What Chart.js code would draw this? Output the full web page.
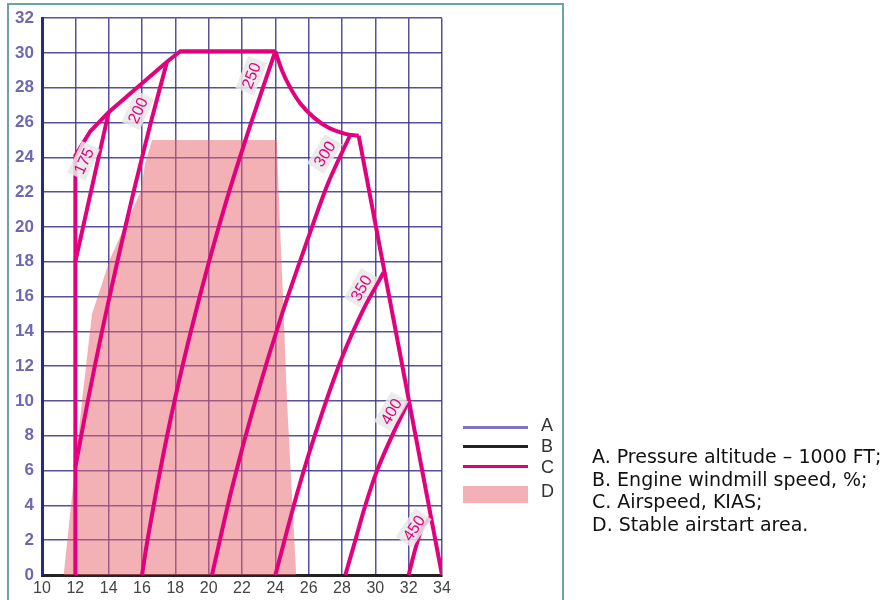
<!DOCTYPE html>
<html>
<head>
<meta charset="utf-8">
<script src="https://cdn.jsdelivr.net/npm/chart.js@4.4.0/dist/chart.umd.min.js"></script>
<style>
  body { margin: 0; background: #fff; }
  #wrap { position: relative; width: 887px; height: 600px; overflow: hidden; }
  #frame { position: absolute; left: 7px; top: 3px; width: 553px; height: 640px; border: 2px solid #6ea3a2; }
  #chart { position: absolute; left: 0; top: 0; }
  .key { position: absolute; left: 463px; width: 65px; height: 3px; }
  .letter { position: absolute; left: 541px; font: 18px "Liberation Sans", Arial, sans-serif; color: #333; line-height: 18px; }
  #notes { position: absolute; left: 592px; top: 445px; font: 19px "DejaVu Sans", sans-serif; line-height: 22.7px; color: #111; white-space: nowrap; }
</style>
</head>
<body>
<div id="wrap">
  <div id="frame"></div>
  <canvas id="chart" width="887" height="600"></canvas>

  <div class="key" style="top:426px;background:#7f74c4"></div>
  <div class="key" style="top:445px;background:#222"></div>
  <div class="key" style="top:465px;background:#e3007d"></div>
  <div class="key" style="top:486px;height:17px;background:#f3b1b5"></div>
  <div class="letter" style="top:416px">A</div>
  <div class="letter" style="top:437px">B</div>
  <div class="letter" style="top:458px">C</div>
  <div class="letter" style="top:482px">D</div>

  <div id="notes">
    A. Pressure altitude – 1000 FT;<br>
    B. Engine windmill speed, %;<br>
    C. Airspeed, KIAS;<br>
    D. Stable airstart area.
  </div>
</div>

<script>
// axis ticks
const xTicks = [10, 12, 14, 16, 18, 20, 22, 24, 26, 28, 30, 32, 34]
const yTicks = [0, 2, 4, 6, 8, 10, 12, 14, 16, 18, 20, 22, 24, 26, 28, 30, 32]

// envelope (windmill speed %, altitude 1000 ft)
const envelopeLeft = [[12, 0], [12, 24.1], [12.9, 25.5], [14, 26.6], [17.5, 29.5], [18.3, 30.1], [24, 30.1]]
const envelopeCurve = [[24, 30.1], [24.4, 29], [24.9, 28], [25.5, 27.1], [26.3, 26.3], [27.2, 25.7], [28.2, 25.35], [29, 25.25]]
const envelopeRight = [[29, 25.25], [34, 0]]

// airspeed lines, KIAS
const speedLabels = ['175', '200', '250', '300', '350', '400', '450']
const speed175 = [[12, 18], [14, 26.6]]
const speed200 = [[12, 6.2], [12.75, 10], [13.6, 14], [14.52, 18], [15.49, 22], [16.53, 26], [17.5, 29.5]]
const speed250 = [[16, 0], [16.33, 2], [17.09, 6], [17.95, 10], [18.93, 14], [20.02, 18], [21.22, 22], [22.55, 26], [24, 30.1]]
const speed300 = [[20.2, 0], [21.4, 5], [22.8, 10], [24.4, 15], [26.2, 20], [27.2, 22.6], [28.5, 25.3]]
const speed350 = [[24, 0], [25.4, 5], [26.7, 9], [28, 12.5], [29.3, 15.3], [30.5, 17.4]]
const speed400 = [[28.2, 0], [28.8, 2], [29.4, 4], [30.1, 6], [31, 8], [32, 10]]
const speed450 = [[32, 0], [32.4, 1.5], [32.8, 2.7], [33.3, 3.3]]

// stable airstart area
const airstartArea = [[11.3, 0], [12.4, 10], [13, 15], [14.1, 18.2], [15.9, 22], [16.2, 23.7], [16.6, 25], [24.1, 25], [24.2, 22], [24.5, 15], [24.7, 10], [25.25, 0]]

// where each speed label sits (x, y, rotation deg)
const labelAnchors = [[12.5, 23.8, 65], [15.75, 26.7, 65], [22.55, 28.7, 68], [26.95, 24.2, 58], [29.15, 16.5, 60], [30.95, 9.4, 60], [32.3, 2.7, 56]]

const MAGENTA = '#e3007d'
const toPts = arr => arr.map(p => ({ x: p[0], y: p[1] }))

function curve(data, tension) {
  return {
    data: toPts(data),
    showLine: true,
    borderColor: MAGENTA,
    borderWidth: 4,
    pointRadius: 0,
    tension: tension || 0,
    fill: false,
    order: 0
  }
}

const speedLabelPlugin = {
  id: 'speedLabels',
  afterDatasetsDraw(chart) {
    const { ctx, scales: { x, y } } = chart
    ctx.save()
    ctx.font = '16px "Liberation Sans", Arial, sans-serif'
    ctx.textAlign = 'center'
    ctx.textBaseline = 'middle'
    speedLabels.forEach((t, i) => {
      const [vx, vy, ang] = labelAnchors[i]
      ctx.save()
      ctx.translate(x.getPixelForValue(vx), y.getPixelForValue(vy))
      ctx.rotate(-ang * Math.PI / 180)
      const w = ctx.measureText(t).width
      ctx.fillStyle = 'rgba(232,232,232,0.85)'
      ctx.fillRect(-w / 2 - 4, -10, w + 8, 20)
      ctx.fillStyle = MAGENTA
      ctx.fillText(t, 0, 1)
      ctx.restore()
    })
    ctx.restore()
  }
}

const ctx = document.getElementById('chart').getContext('2d')

new Chart(ctx, {
  type: 'scatter',
  data: {
    datasets: [
      curve(envelopeLeft),
      curve(envelopeCurve, 0.4),
      curve(envelopeRight),
      curve(speed175),
      curve(speed200, 0.3),
      curve(speed250, 0.3),
      curve(speed300, 0.3),
      curve(speed350, 0.3),
      curve(speed400, 0.3),
      curve(speed450, 0.3),
      {
        data: toPts(airstartArea),
        showLine: true,
        borderWidth: 0,
        borderColor: 'rgba(0,0,0,0)',
        backgroundColor: 'rgba(232,100,110,0.5)',
        pointRadius: 0,
        tension: 0,
        fill: 'origin',
        order: 10
      }
    ]
  },
  options: {
    responsive: false,
    animation: false,
    devicePixelRatio: 1,
    layout: { padding: { left: 8, top: 15, right: 445, bottom: 0 } },
    plugins: { legend: { display: false }, tooltip: { enabled: false } },
    scales: {
      x: {
        type: 'linear',
        min: 10,
        max: 34,
        afterBuildTicks: s => { s.ticks = xTicks.map(v => ({ value: v })) },
        afterFit: s => { s.height = 25 },
        grid: { color: 'rgba(58,50,140,0.85)', lineWidth: 1.5, drawTicks: false },
        border: { color: '#222', width: 3 },
        ticks: { padding: 4, color: '#444', font: { family: 'Liberation Sans', size: 16 } }
      },
      y: {
        type: 'linear',
        min: 0,
        max: 32,
        afterBuildTicks: s => { s.ticks = yTicks.map(v => ({ value: v })) },
        afterFit: s => { s.width = 34 },
        grid: { color: 'rgba(58,50,140,0.85)', lineWidth: 1.5, drawTicks: false },
        border: { color: '#2a2a82', width: 3 },
        ticks: { padding: 8, color: '#6f67b2', font: { family: 'Liberation Sans', size: 17, weight: 'bold' } }
      }
    }
  },
  plugins: [speedLabelPlugin]
})
</script>
</body>
</html>
